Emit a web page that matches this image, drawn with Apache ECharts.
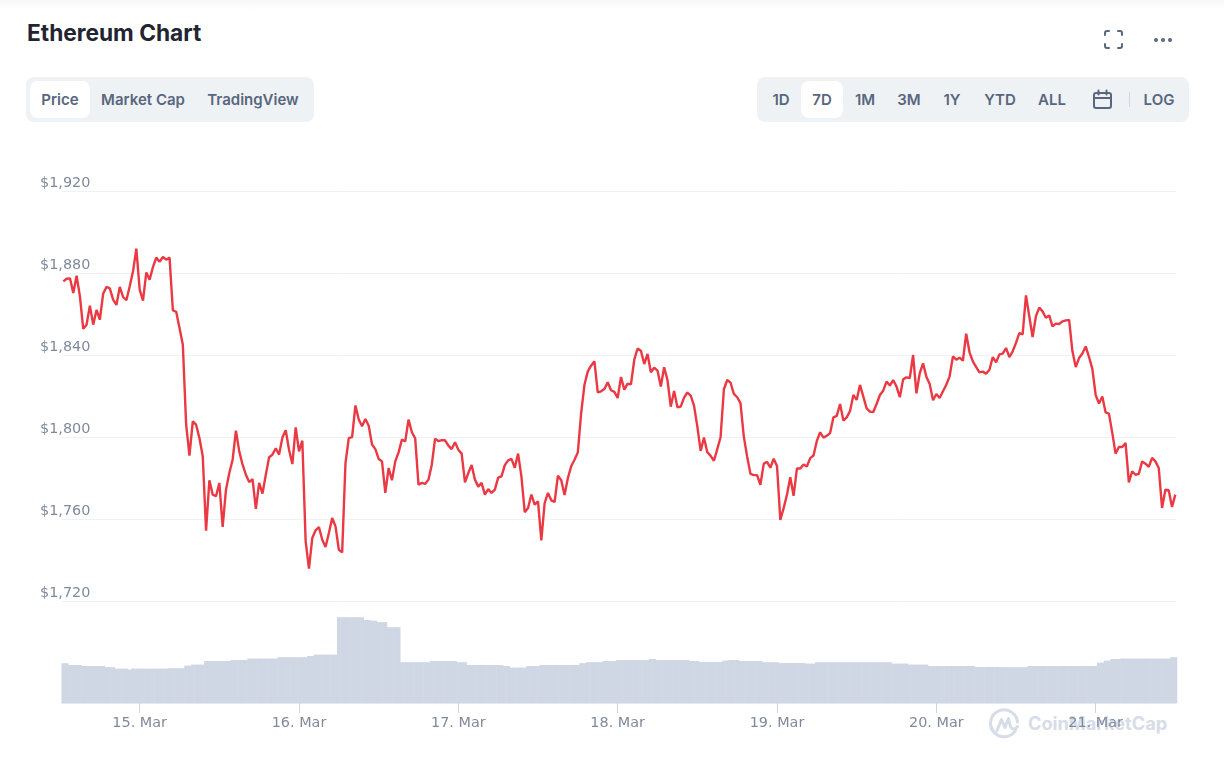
<!DOCTYPE html>
<html>
<head>
<meta charset="utf-8">
<title>Ethereum Chart</title>
<script src="https://cdn.jsdelivr.net/npm/echarts@6/dist/echarts.min.js"></script>
<style>
  html, body { margin: 0; padding: 0; background: #fff; width: 1224px; height: 761px; overflow: hidden; }
  body { position: relative; font-family: Inter, sans-serif; color: #58667e; }
  #topShade { position: absolute; left: 0; top: 0; width: 1224px; height: 10px; background: linear-gradient(#f8f8f9, #fff); }
  #title { position: absolute; left: 27px; top: 18px; font-size: 22.7px; line-height: 30px; font-weight: 700; color: #222531; }
  .panel { position: absolute; top: 77px; height: 45px; background: #eff2f5; border-radius: 8px; }
  .selected { position: absolute; top: 81px; height: 37px; background: #fff; border-radius: 8px; }
  .btn { position: absolute; top: 77px; height: 45px; line-height: 45px; font-size: 15px; font-weight: 600; transform: translateX(-50%); white-space: nowrap; }
  .icon { position: absolute; }
  #main { position: absolute; left: 0; top: 0; width: 1224px; height: 761px; }
  #mark { position: absolute; left: 1028px; top: 708px; line-height: 30px; font-size: 18.2px; font-weight: 700; color: #d6dce8; white-space: nowrap; }
</style>
</head>
<body>
<div id="topShade"></div>
<div id="title">Ethereum Chart</div>

<svg class="icon" style="left:1103px;top:29px" width="21" height="21" viewBox="0 0 21 21" fill="none" stroke="#58667e" stroke-width="2" stroke-linecap="round">
  <path d="M2 6V4a2 2 0 0 1 2-2h2M15 2h2a2 2 0 0 1 2 2v2M19 15v2a2 2 0 0 1-2 2h-2M6 19H4a2 2 0 0 1-2-2v-2"/>
</svg>
<svg class="icon" style="left:1153px;top:36px" width="20" height="8" viewBox="0 0 20 8" fill="#58667e">
  <circle cx="3" cy="4" r="2"/><circle cx="10" cy="4" r="2"/><circle cx="17" cy="4" r="2"/>
</svg>

<div class="panel" style="left:26px;width:288px"></div>
<div class="selected" style="left:30px;width:60px"></div>
<div class="btn" style="left:60px">Price</div>
<div class="btn" style="left:143px">Market Cap</div>
<div class="btn" style="left:253px">TradingView</div>

<div class="panel" style="left:757px;width:432px"></div>
<div class="selected" style="left:801px;width:42px"></div>
<div class="btn" style="left:781px">1D</div>
<div class="btn" style="left:822px">7D</div>
<div class="btn" style="left:865px">1M</div>
<div class="btn" style="left:909px">3M</div>
<div class="btn" style="left:952px">1Y</div>
<div class="btn" style="left:1000px">YTD</div>
<div class="btn" style="left:1052px">ALL</div>
<svg class="icon" style="left:1092px;top:89px" width="21" height="21" viewBox="0 0 21 21" fill="none" stroke="#58667e" stroke-width="2" stroke-linecap="round">
  <rect x="2" y="4" width="17" height="15" rx="2"/><path d="M2 9h17M6.5 1.5v4M14.5 1.5v4"/>
</svg>
<div class="icon" style="left:1129px;top:92px;width:1px;height:15px;background:#cfd6e4"></div>
<div class="btn" style="left:1159px">LOG</div>

<svg class="icon" style="left:989px;top:708px" width="30" height="31" viewBox="0 0 30 31" fill="none" stroke="#d6dce8" stroke-width="3" stroke-linecap="round" stroke-linejoin="round">
  <path d="M26.500 22.500A13.500 13.500 0 1 1 28.500 14"/>
  <path d="M8 22.500L12.500 11.500L16 19.500L19.500 10.500L21 17C22 21.500 25.500 22.500 28.500 18.500"/>
</svg>
<div id="mark">CoinMarketCap</div>

<div id="main"></div>

<script>
// hours are counted from 15 Mar 00:00, one point every half hour
const startHour = -11.5;
const stepHours = 0.5;

const dayHours = [0, 24, 48, 72, 96, 120, 144];
const dayLabels = ["15. Mar", "16. Mar", "17. Mar", "18. Mar", "19. Mar", "20. Mar", "21. Mar"];

const priceTicks = [1720, 1760, 1800, 1840, 1880, 1920];

const prices = [
  1875.9, 1877.2, 1877.4, 1870.2, 1878.7, 1868.6, 1852.8, 1854.8, 1864.1, 1854.8, 1862.0, 1857.2,
  1869.9, 1873.2, 1872.5, 1867.0, 1864.4, 1873.2, 1868.3, 1866.7, 1873.5, 1880.8, 1891.9, 1871.9,
  1866.5, 1880.3, 1876.7, 1882.9, 1887.5, 1885.5, 1887.8, 1886.5, 1887.5, 1861.8, 1861.1, 1853.2,
  1845.0, 1806.0, 1790.9, 1807.6, 1806.0, 1799.5, 1790.6, 1754.3, 1778.9, 1771.9, 1771.1, 1777.6,
  1756.1, 1774.3, 1782.4, 1788.9, 1803.1, 1793.0, 1786.5, 1781.6, 1778.0, 1779.5, 1764.9, 1777.6,
  1772.4, 1781.6, 1790.1, 1791.4, 1794.5, 1791.4, 1799.8, 1803.3, 1793.8, 1786.8, 1804.7, 1793.0,
  1798.2, 1749.1, 1735.8, 1750.7, 1754.5, 1756.1, 1749.9, 1746.3, 1753.2, 1760.5, 1756.4, 1745.0,
  1743.7, 1787.3, 1799.5,
  1800.0, 1815.4, 1808.5, 1805.2, 1808.8, 1805.5, 1796.3, 1794.1, 1789.3, 1788.1, 1772.7, 1784.9,
  1778.9, 1788.1, 1792.5, 1798.7, 1797.9, 1808.5, 1802.3, 1799.3, 1776.7, 1777.6, 1777.1, 1779.2,
  1786.5, 1799.2, 1798.0, 1798.5, 1798.4, 1795.8, 1794.1, 1797.4, 1793.8, 1791.9, 1777.9, 1782.4,
  1786.3, 1779.2, 1775.8, 1777.6, 1771.9, 1774.6, 1772.7, 1774.3, 1780.2, 1780.8, 1786.3, 1788.6,
  1789.3, 1785.0, 1791.9, 1780.8, 1763.3, 1765.4, 1771.9, 1767.0, 1768.6, 1749.6, 1767.8, 1772.7,
  1769.1, 1768.3, 1781.1, 1778.9, 1771.7, 1780.0, 1785.7, 1788.9, 1792.5, 1811.7, 1825.5, 1832.0,
  1834.8, 1836.9, 1821.8, 1822.3, 1823.4, 1826.7, 1822.8, 1822.0, 1819.0, 1829.3, 1823.1, 1826.0,
  1825.7, 1837.7, 1843.1,
  1842.1, 1835.6, 1840.5, 1831.6, 1833.8, 1832.4, 1824.6, 1834.0, 1827.8, 1814.8, 1822.5, 1814.5,
  1814.8, 1819.2, 1821.7, 1820.2, 1815.3, 1805.1, 1793.2, 1799.7, 1792.6, 1790.8, 1788.4, 1794.1,
  1799.9, 1823.3, 1827.8, 1826.5, 1821.0, 1819.4, 1816.5, 1800.2, 1790.5, 1782.0, 1781.4, 1781.4,
  1776.7, 1786.9, 1787.9, 1785.0, 1789.4, 1785.9, 1759.6, 1765.3, 1771.8, 1780.4, 1771.3, 1784.6,
  1784.6, 1786.6, 1785.6, 1789.7, 1791.0, 1798.1, 1802.3, 1799.7, 1800.6, 1801.9, 1809.6, 1810.3,
  1816.1, 1808.0, 1809.6, 1812.7, 1820.5, 1818.1, 1825.4, 1819.7, 1814.0, 1812.4, 1812.2, 1816.1,
  1820.5, 1822.6, 1827.0, 1825.1, 1827.8, 1824.6, 1819.4, 1828.1, 1829.1, 1828.8, 1840.0, 1821.3,
  1831.1, 1835.9, 1829.4, 1825.9,
  1817.9, 1821.0, 1819.0, 1822.3, 1825.5, 1829.6, 1839.3, 1837.7, 1838.7, 1837.2, 1850.4, 1841.3,
  1836.9, 1834.1, 1831.5, 1831.9, 1830.9, 1832.8, 1839.0, 1836.4, 1840.3, 1840.7, 1843.4, 1839.0,
  1841.8, 1845.9, 1850.7, 1850.1, 1869.1, 1858.9, 1848.8, 1858.9, 1863.1, 1861.3, 1858.2, 1859.3,
  1854.0, 1855.3, 1855.1, 1856.4, 1856.9, 1857.1, 1841.8, 1834.1, 1838.5, 1840.7, 1844.2, 1839.0,
  1833.2, 1820.5, 1816.3, 1819.8, 1812.0, 1811.4, 1802.0, 1791.9, 1795.1, 1795.1, 1797.1, 1777.9,
  1783.3, 1781.6, 1782.0, 1788.1, 1787.0, 1785.4, 1789.8, 1788.1, 1784.9, 1765.4, 1774.3, 1774.0,
  1765.9, 1771.9
];

const volumes = [
  19.9, 19.9, 19.0, 19.0, 19.0, 19.0, 18.5, 18.5, 18.5, 18.5, 18.5, 18.5, 18.5, 17.9, 17.9, 17.9,
  17.2, 17.2, 17.2, 17.2, 16.7, 17.2, 17.2, 17.2, 17.2, 17.2, 17.2, 17.2, 17.2, 17.2, 17.2, 17.2,
  17.4, 17.4, 17.4, 17.4, 17.4, 18.7, 18.7, 19.2, 19.2, 19.2, 19.2, 21.0, 21.0, 21.0, 21.0, 21.0,
  21.0, 21.0, 21.0, 21.5, 21.5, 21.5, 21.5, 21.5, 22.2, 22.2, 22.2, 22.2, 22.2, 22.2, 22.2, 22.2,
  22.2, 22.9, 22.9, 22.9, 22.9, 22.9, 22.9, 22.9, 22.9, 22.9, 23.5, 23.5, 24.2, 24.2, 24.2, 24.2,
  24.2, 24.2, 24.2, 42.9, 42.9, 42.9, 42.9, 42.9, 42.9, 42.9, 42.9, 41.5, 41.5, 41.2, 41.2, 40.4,
  40.4, 40.4, 37.9, 37.9, 37.9, 37.9, 20.4, 20.4, 20.4, 20.4, 20.4, 20.4, 20.4, 20.4, 20.4, 21.0,
  21.0, 21.0, 21.0, 21.0, 21.0, 21.0, 21.0, 20.4, 20.4, 20.4, 19.0, 19.0, 19.0, 19.0, 19.0, 19.0,
  19.0, 19.0, 19.0, 19.0, 19.0, 18.5, 18.5, 17.7, 17.7, 17.7, 17.7, 17.7, 18.5, 18.5, 18.5, 18.5,
  19.0, 19.0, 19.0, 19.0, 19.0, 19.0, 19.0, 19.0, 19.0, 19.0, 19.0, 19.0, 19.9, 19.9, 20.4, 20.4,
  20.4, 20.4, 20.4, 21.0, 21.0, 21.0, 21.0, 21.5, 21.5, 21.5, 21.5, 21.5, 21.5, 21.5, 21.5, 21.5,
  21.5, 22.0, 22.0, 21.5, 21.5, 21.5, 21.5, 21.5, 21.5, 21.5, 21.5, 21.5, 21.5, 21.0, 21.0, 21.0,
  20.5, 20.5, 20.5, 20.5, 20.5, 20.5, 20.5, 21.2, 21.2, 21.5, 21.5, 21.5, 21.0, 21.0, 21.0, 21.0,
  21.0, 21.0, 21.0, 20.4, 20.4, 20.4, 20.4, 20.4, 20.0, 20.0, 20.0, 20.0, 20.0, 20.0, 20.0, 20.0,
  19.7, 19.7, 19.7, 20.4, 20.4, 20.4, 20.4, 20.4, 20.4, 20.4, 20.4, 20.4, 20.4, 20.4, 20.4, 20.4,
  20.4, 20.4, 20.4, 20.4, 20.4, 20.4, 20.4, 20.4, 20.4, 20.4, 19.7, 19.7, 19.7, 19.7, 19.7, 19.2,
  19.2, 19.2, 19.2, 19.2, 19.2, 18.5, 18.5, 18.5, 18.5, 18.5, 18.5, 18.5, 18.5, 18.5, 18.5, 18.5,
  18.5, 18.5, 18.5, 18.0, 18.0, 18.0, 18.0, 18.0, 18.0, 18.0, 18.0, 17.9, 17.9, 17.9, 17.9, 17.9,
  17.9, 17.9, 17.9, 18.5, 18.5, 18.5, 18.5, 18.5, 18.5, 18.5, 18.5, 18.5, 18.5, 18.5, 18.5, 18.5,
  18.5, 18.5, 18.5, 18.5, 18.5, 18.5, 18.5, 18.5, 20.2, 20.2, 21.2, 21.2, 22.0, 22.0, 22.0, 22.2,
  22.2, 22.2, 22.2, 22.2, 22.2, 22.2, 22.2, 22.2, 22.2, 22.2, 22.2, 22.2, 22.2, 22.2, 22.9, 22.9
];

const hourOf = i => startHour + i * stepHours;

const chart = echarts.init(document.getElementById("main"), null, { renderer: "canvas" });

chart.setOption({
  animation: false,
  backgroundColor: "transparent",
  grid: [
    { left: 62, width: 1114, top: 191, height: 410 },
    { left: 62, width: 1114, top: 603, height: 100 }
  ],
  xAxis: [
    {
      type: "value",
      gridIndex: 0,
      min: -11.7,
      max: 156.1,
      show: false
    },
    {
      type: "value",
      gridIndex: 1,
      min: -11.7,
      max: 156.1,
      splitLine: { show: false },
      axisLine: { show: true, onZero: false, lineStyle: { color: "#e3e8f1", width: 1 } },
      axisTick: { show: true, customValues: dayHours, length: 10, lineStyle: { color: "#ccd6eb" } },
      axisLabel: {
        customValues: dayHours,
        margin: 13,
        color: "#808a9d",
        fontFamily: "DejaVu Sans",
        fontSize: 14.4,
        formatter: v => dayLabels[dayHours.indexOf(v)]
      }
    }
  ],
  yAxis: [
    {
      type: "value",
      gridIndex: 0,
      min: priceTicks[0],
      max: priceTicks[priceTicks.length - 1],
      interval: 40,
      axisLine: { show: false },
      axisTick: { show: false },
      splitLine: { lineStyle: { color: "#eff2f5", width: 1 } },
      axisLabel: {
        color: "#808a9d",
        fontFamily: "DejaVu Sans",
        fontSize: 14.4,
        align: "left",
        verticalAlign: "bottom",
        margin: 22,
        padding: [0, 0, 1, 0],
        formatter: v => "$" + v.toLocaleString("en-US")
      }
    },
    {
      type: "value",
      gridIndex: 1,
      min: 0,
      max: 50,
      show: false
    }
  ],
  series: [
    {
      type: "bar",
      xAxisIndex: 1,
      yAxisIndex: 1,
      barWidth: 3.8,
      itemStyle: { color: "#cfd6e4" },
      data: volumes.map((v, i) => [hourOf(i), v])
    },
    {
      type: "line",
      xAxisIndex: 0,
      yAxisIndex: 0,
      showSymbol: false,
      lineStyle: { color: "#ea3943", width: 2.4 },
      data: prices.map((v, i) => [hourOf(i), v])
    }
  ]
});
</script>
</body>
</html>
